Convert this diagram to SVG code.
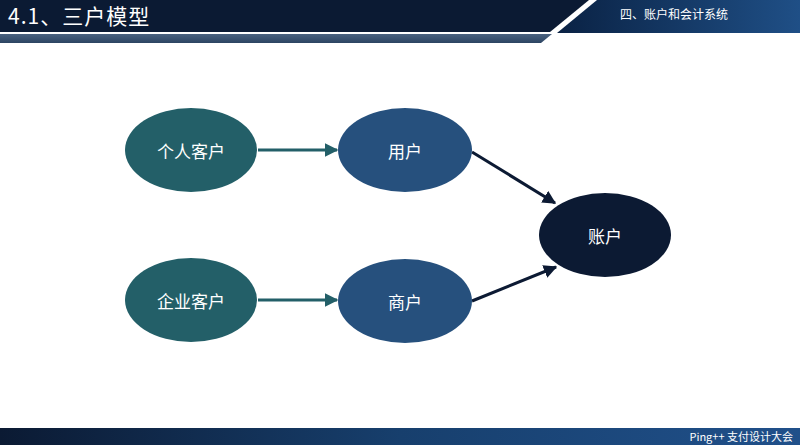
<svg xmlns="http://www.w3.org/2000/svg" width="800" height="445" viewBox="0 0 800 445">
  <defs>
    <linearGradient id="hdrRight" x1="0" y1="0" x2="1" y2="0">
      <stop offset="0" stop-color="#0a2244"/>
      <stop offset="1" stop-color="#1f4f86"/>
    </linearGradient>
    <linearGradient id="strip" x1="0" y1="0" x2="0" y2="1">
      <stop offset="0" stop-color="#4a6280"/>
      <stop offset="1" stop-color="#2c4462"/>
    </linearGradient>
    <linearGradient id="footer" x1="0" y1="0" x2="1" y2="0">
      <stop offset="0" stop-color="#0b1a33"/>
      <stop offset="0.5" stop-color="#173f6d"/>
      <stop offset="1" stop-color="#20508a"/>
    </linearGradient>
    <marker id="arrTeal" viewBox="0 0 10 10" refX="9" refY="5" markerWidth="4.5" markerHeight="4.5" orient="auto" markerUnits="strokeWidth">
      <path d="M0,0 L10,5 L0,10 z" fill="#235f68"/>
    </marker>
    <marker id="arrNavy" viewBox="0 0 10 10" refX="9" refY="5" markerWidth="4.5" markerHeight="4.5" orient="auto" markerUnits="strokeWidth">
      <path d="M0,0 L10,5 L0,10 z" fill="#0c1a33"/>
    </marker>
  </defs>
  <style>
    .lbl { font-family: "Noto Sans CJK SC", "Liberation Sans", sans-serif; font-size: 17px; fill: #ffffff; text-anchor: middle; dominant-baseline: central; }
    .hdr { font-family: "Noto Sans CJK SC", "Liberation Sans", sans-serif; fill: #ffffff; }
    .teal { fill: #235f68; }
    .blue { fill: #26507d; }
    .navy { fill: #0c1a33; }
    .edge { fill: none; stroke-width: 3; }
  </style>

  <rect width="800" height="445" fill="#ffffff"/>

  <!-- header band -->
  <g id="header">
    <polygon points="0,0 589,0 550,32 0,32" fill="#0b1a33"/>
    <polygon points="0,34 552,34 541,43 0,43" fill="url(#strip)"/>
    <polygon points="597,0 800,0 800,33 557,33" fill="url(#hdrRight)"/>
    <text class="hdr" x="8" y="24" font-size="21" letter-spacing="1">4.1、三户模型</text>
    <text class="hdr" x="620" y="19" font-size="12">四、账户和会计系统</text>
  </g>

  <!-- footer band -->
  <g id="footer-band">
    <rect x="0" y="428" width="800" height="17" fill="url(#footer)"/>
    <text class="hdr" x="793" y="441" font-size="11" text-anchor="end">Ping++ 支付设计大会</text>
  </g>

  <!-- connectors -->
  <g id="connectors">
    <line class="edge" x1="258" y1="150" x2="337" y2="150" stroke="#235f68" marker-end="url(#arrTeal)"/>
    <line class="edge" x1="258" y1="300" x2="337" y2="300" stroke="#235f68" marker-end="url(#arrTeal)"/>
    <line class="edge" x1="472" y1="152" x2="555" y2="203" stroke="#0c1a33" marker-end="url(#arrNavy)"/>
    <line class="edge" x1="472" y1="301" x2="556" y2="267" stroke="#0c1a33" marker-end="url(#arrNavy)"/>
  </g>

  <!-- nodes -->
  <g id="node-personal">
    <ellipse class="teal" cx="191" cy="150" rx="66" ry="42"/>
    <text class="lbl" x="191" y="150">个人客户</text>
  </g>
  <g id="node-user">
    <ellipse class="blue" cx="405" cy="150" rx="67" ry="42"/>
    <text class="lbl" x="405" y="150">用户</text>
  </g>
  <g id="node-enterprise">
    <ellipse class="teal" cx="191" cy="300" rx="66" ry="42"/>
    <text class="lbl" x="191" y="300">企业客户</text>
  </g>
  <g id="node-merchant">
    <ellipse class="blue" cx="405" cy="301" rx="67" ry="42"/>
    <text class="lbl" x="405" y="301">商户</text>
  </g>
  <g id="node-account">
    <ellipse class="navy" cx="605" cy="235" rx="66" ry="42"/>
    <text class="lbl" x="605" y="235">账户</text>
  </g>
</svg>
